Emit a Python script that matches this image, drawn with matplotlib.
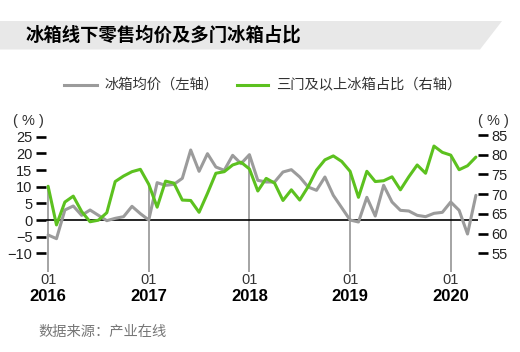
import matplotlib
matplotlib.use("Agg")
import matplotlib.pyplot as plt
from matplotlib.lines import Line2D
from matplotlib.patches import Polygon

# ---------------------------------------------------------------------------
# Data (monthly, Jan 2016 .. Apr 2020)
# ---------------------------------------------------------------------------
years = ["2016", "2017", "2018", "2019", "2020"]

# 冰箱均价 同比 (%), left axis
avg_price = [
    -4.5, -5.6, 3.0, 4.2, 1.4, 3.0, 1.4, -0.2, 0.5, 1.0, 4.1, 1.9,
    0.0, 11.2, 10.4, 10.7, 12.5, 21.0, 14.6, 19.9, 15.9, 14.9, 19.4, 16.9,
    19.6, 11.9, 11.4, 11.4, 14.4, 15.1, 12.9, 9.9, 8.9, 12.9, 7.4, 3.7,
    0.0, -0.6, 6.8, 1.2, 10.4, 5.4, 2.9, 2.7, 1.4, 1.0, 2.0, 2.3,
    5.4, 2.9, -4.2, 7.4,
]

# 三门及以上冰箱占比 (%), right axis
multi_door = [
    72.0, 62.2, 68.0, 69.5, 65.6, 63.0, 63.4, 65.3, 73.2, 74.6, 75.7, 76.3,
    72.5, 66.7, 73.3, 72.8, 68.5, 68.4, 65.4, 70.2, 75.3, 75.7, 77.4, 78.1,
    76.4, 70.8, 74.0, 72.8, 68.4, 71.1, 68.5, 71.9, 76.1, 78.7, 79.7, 78.3,
    75.8, 69.2, 75.8, 73.2, 73.4, 74.4, 71.1, 74.4, 77.4, 75.3, 82.2, 80.6,
    79.9, 76.2, 77.2, 79.4,
]

left_ticks = [-10, -5, 0, 5, 10, 15, 20, 25]
right_ticks = [55, 60, 65, 70, 75, 80, 85]

title = "冰箱线下零售均价及多门冰箱占比"
legend_gray = "冰箱均价（左轴）"
legend_green = "三门及以上冰箱占比（右轴）"
source = "数据来源：产业在线"

GRAY = "#9b9b9b"
GREEN = "#5cc11f"
CJK = ["Noto Sans CJK SC", "DejaVu Sans"]

plt.rcParams["font.family"] = ["Liberation Sans", "DejaVu Sans"]

W, H = 520, 352
fig = plt.figure(figsize=(W / 100, H / 100), dpi=100)


def fx(x):
    return x / W


def fy(y):
    return 1 - y / H


# title band
band = Polygon([(fx(0), fy(21)), (fx(502), fy(21)), (fx(480), fy(49.5)), (fx(0), fy(49.5))],
               closed=True, transform=fig.transFigure, facecolor="#e8e8e8", edgecolor="none")
fig.add_artist(band)
fig.text(fx(25), fy(35.5), title, fontsize=13.2, fontweight="bold", family=CJK,
         va="center", ha="left", color="black")

# legend
fig.add_artist(Line2D([fx(64), fx(97)], [fy(85), fy(85)], color=GRAY, lw=2.2,
                      transform=fig.transFigure))
fig.text(fx(104), fy(85), legend_gray, fontsize=10.3, family=CJK, va="center", color="#333333")
fig.add_artist(Line2D([fx(237), fx(268)], [fy(85), fy(85)], color=GREEN, lw=2.2,
                      transform=fig.transFigure))
fig.text(fx(276), fy(85), legend_green, fontsize=10.3, family=CJK, va="center", color="#333333")

# axes
ax = fig.add_axes([fx(46), fy(272), fx(478) - fx(46), fy(130) - fy(272)])
ax2 = ax.twinx()

n = len(avg_price)
months = list(range(n))
L0, L1 = -15.6, 27.0
R0, R1 = 50.26, 86.27
ax.set_xlim(-0.25, n - 1 + 0.25)
ax.set_ylim(L0, L1)
ax2.set_ylim(R0, R1)

# vertical year markers, up to the higher of the two lines
for k, yr in enumerate(years):
    i = k * 12
    g_left = L0 + (multi_door[i] - R0) * (L1 - L0) / (R1 - R0)
    top = max(avg_price[i], g_left)
    ax.plot([i, i], [L0, top], color="#8c8c8c", lw=1.1, zorder=1)
    ax.text(i, -0.056, "01", transform=ax.get_xaxis_transform(), ha="center", va="center",
            fontsize=10.5, color="#333333")
    ax.text(i, -0.176, yr, transform=ax.get_xaxis_transform(), ha="center", va="center",
            fontsize=12, fontweight="bold", color="black")

ax.axhline(0, color="black", lw=1.2, zorder=2)
ax.plot(months, avg_price, color=GRAY, lw=2.2, solid_joinstyle="round",
        solid_capstyle="round", zorder=3)
ax2.plot(months, multi_door, color=GREEN, lw=2.2, solid_joinstyle="round",
         solid_capstyle="round", zorder=4)

for a in (ax, ax2):
    for s in a.spines.values():
        s.set_visible(False)
    a.set_xticks([])
    a.patch.set_visible(False)

ax.set_yticks(left_ticks)
ax.set_yticklabels([str(v).replace("-", "\u2212") for v in left_ticks])
ax.tick_params(axis="y", direction="out", length=7.2, width=1.9, pad=2.5,
               labelsize=10.5, colors="black", labelcolor="#222222")
ax2.set_yticks(right_ticks)
ax2.tick_params(axis="y", direction="out", length=7.2, width=1.9, pad=2.5,
                labelsize=10.5, colors="black", labelcolor="#222222")

fig.text(fx(28), fy(121), "( % )", fontsize=10.5, ha="center", va="center", color="#333333")
fig.text(fx(493), fy(121), "( % )", fontsize=10.5, ha="center", va="center", color="#333333")

fig.text(fx(38), fy(332), source, fontsize=10.3, family=CJK, ha="left", va="center",
         color="#777777")

fig.savefig("out.png", dpi=100)
